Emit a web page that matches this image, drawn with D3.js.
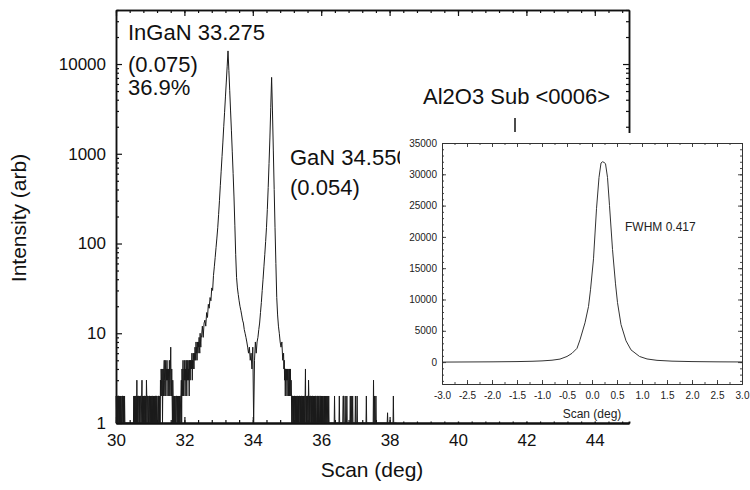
<!DOCTYPE html>
<html lang="en">
<head>
<meta charset="UTF-8">
<title>XRD scan InGaN / GaN</title>
<script src="https://cdnjs.cloudflare.com/ajax/libs/d3/7.8.5/d3.min.js"></script>
<style>
  body { margin: 0; background: #fff; }
  svg { display: block; font-family: "Liberation Sans", Arial, sans-serif; }
</style>
</head>
<body>
<div id="chart"></div>
<script>
// main scan, read in three pieces (finer grid where the counts are noisy)
// low angle noise: 30.00 .. 32.49 deg, step 0.01
const lowStart = 30, lowStep = 0.01;
const lowCounts = [
  2,0,2,1,2,0,2,2,0,2,   // 30.0
  1,2,0,2,0,2,1,0,2,2,   // 30.1
  0,2,1,2,0,2,0,1,1,0,   // 30.2
  1,0,1,1,0,1,0,1,1,0,   // 30.3
  1,1,0,1,0,1,1,0,1,0,   // 30.4
  1,1,2,0,2,1,2,0,2,2,   // 30.5
  0,3,1,2,0,2,2,0,1,2,   // 30.6
  0,2,2,1,0,2,3,0,2,1,   // 30.7
  2,0,2,2,0,2,1,2,0,3,   // 30.8
  2,0,2,2,1,0,2,0,2,2,   // 30.9
  0,2,1,2,0,2,2,0,2,1,   // 31.0
  2,0,2,0,2,2,1,2,0,2,   // 31.1
  2,0,1,2,2,0,2,0,2,1,   // 31.2
  3,2,4,3,2,4,1,3,4,2,   // 31.3
  4,5,3,2,5,4,2,4,3,5,   // 31.4
  3,4,2,3,4,2,5,3,2,4,   // 31.5
  7,3,2,4,2,1,3,2,0,2,   // 31.6
  1,2,0,2,1,0,2,2,0,1,   // 31.7
  2,0,2,1,2,0,2,1,0,2,   // 31.8
  2,3,1,4,2,3,5,2,3,4,   // 31.9
  3,5,2,4,3,5,4,2,5,3,   // 32.0
  4,5,3,4,2,5,4,3,5,4,   // 32.1
  5,4,6,3,5,4,6,5,4,6,   // 32.2
  5,7,6,5,8,6,7,5,8,7,   // 32.3
  6,8,7,9,7,6,10,8,7,9   // 32.4
];
// the two peaks: 32.500 .. 34.875 deg, step 0.025
const peakStart = 32.5, peakStep = 0.025;
const peakCounts = [
  9,12,9,13,14,12,17,15,21,19,
  25,23,32,30,44,55,70,90,115,150,
  210,300,440,640,930,1350,2000,2900,4300,6300,
  9300,14000,8500,5100,3000,1800,1050,600,330,160,
  75,42,32,27,23,20,18,16,14,13,
  11,10,9,8,7,6,7,5,6,4,
  7,1,5,8,6,8,9,11,13,17,
  22,30,40,55,75,105,150,240,420,780,
  1500,3300,7100,3000,1100,400,150,60,25,16,
  12,10,8,7,8,5
];
// high angle noise: 34.90 .. 38.20 deg, step 0.01
const highStart = 34.9, highStep = 0.01;
const highCounts = [
  6,4,5,3,4,2,4,4,3,4,   // 34.9
  2,4,3,4,2,3,4,2,4,3,   // 35.0
  4,2,3,2,0,2,2,0,2,1,   // 35.1
  2,0,2,2,0,2,1,2,0,2,   // 35.2
  2,0,2,1,2,0,2,2,0,2,   // 35.3
  1,2,0,2,2,0,2,0,2,1,   // 35.4
  2,0,2,2,4,0,2,1,2,0,   // 35.5
  2,2,0,3,2,0,2,1,2,2,   // 35.6
  0,2,1,2,0,2,2,0,2,0,   // 35.7
  2,1,2,0,2,2,0,1,2,0,   // 35.8
  2,2,0,2,1,0,2,2,0,2,   // 35.9
  1,2,0,2,0,2,1,0,2,0,   // 36.0
  2,0,1,2,0,2,0,1,0,2,   // 36.1
  0,1,2,0,0,1,0,0,0,0,   // 36.2
  0,0,0,0,0,0,0,0,0,2,   // 36.3
  0,0,0,0,0,0,0,0,0,0,   // 36.4
  0,0,0,2,0,0,0,0,0,0,   // 36.5
  0,0,0,0,2,2,0,0,0,0,   // 36.6
  2,0,0,0,0,2,0,0,0,0,   // 36.7
  0,0,0,0,0,2,0,0,2,0,   // 36.8
  0,0,2,0,0,0,0,0,0,0,   // 36.9
  2,0,0,0,0,2,0,0,0,0,   // 37.0
  0,0,0,0,0,0,0,0,0,0,   // 37.1
  0,0,0,0,0,0,0,0,0,0,   // 37.2
  0,0,2,0,0,0,0,0,0,0,   // 37.3
  0,0,0,0,0,0,0,0,0,0,   // 37.4
  0,0,0,3,0,0,2,0,0,0,   // 37.5
  2,0,0,0,0,0,0,0,0,0,   // 37.6
  0,0,0,0,0,0,0,0,0,0,   // 37.7
  0,0,0,0,0,0,0,0,0,0,   // 37.8
  0,0,0,0,1.3,0,0,0,0,0, // 37.9
  0,0,0,0,0,0,0,0,0,0,   // 38.0
  0,2,0,0,0,0,0,0,0,0,   // 38.1
  0                      // 38.2
];
const mainXTicks = [30, 32, 34, 36, 38, 40, 42, 44];
const mainYTicks = [1, 10, 100, 1000, 10000];

const inganNote = ["InGaN 33.275", "(0.075)", "36.9%"];
const ganNote = ["GaN 34.550", "(0.054)"];
const subNote = "Al2O3 Sub <0006>";

// inset: substrate rocking curve
const rockX = [-3.0, -2.5, -2.0, -1.5, -1.2, -1.0, -0.8, -0.64, -0.5, -0.4, -0.3, -0.24, -0.14, -0.07, -0.03,
  0.03, 0.09, 0.14, 0.18, 0.21, 0.24, 0.27, 0.31, 0.35, 0.41, 0.47, 0.51, 0.58, 0.68, 0.78, 0.95,
  1.1, 1.3, 1.6, 2.0, 2.5, 3.0];
const rockY = [0, 20, 40, 80, 130, 190, 300, 480, 900, 1400, 2200, 3560, 6280, 8880, 11550,
  16500, 24500, 29500, 31800, 32000, 31900, 31700, 29500, 25000, 18000, 12500, 9500, 6000, 3400, 1950, 900,
  500, 280, 150, 80, 40, 20];
const insetXTicks = [-3.0, -2.5, -2.0, -1.5, -1.0, -0.5, 0.0, 0.5, 1.0, 1.5, 2.0, 2.5, 3.0];
const insetYTicks = [0, 5000, 10000, 15000, 20000, 25000, 30000, 35000];

const width = 750, height = 490;
const ink = "#111";

const svg = d3.select("#chart").append("svg")
  .attr("width", width)
  .attr("height", height);

// ---------- main plot ----------
const x = d3.scaleLinear().domain([30, 45]).range([116, 629]);
const y = d3.scaleLog().domain([1, 40000]).range([423, 10]);

const xMinor = d3.range(0, 38).map(i => 30 + i * 0.4);
const yMinor = y.ticks().filter(v => !mainYTicks.includes(v));

function styleAxis(g, size, sw) {
  g.style("color", ink)
    .attr("font-family", "Liberation Sans, Arial, sans-serif")
    .attr("font-size", size);
  g.select(".domain").attr("stroke-width", sw);
  g.selectAll(".tick line").attr("stroke-width", 1.2);
}

// minor ticks
svg.append("g").attr("transform", "translate(0,423)")
  .call(d3.axisBottom(x).tickValues(xMinor).tickSizeInner(-3).tickSizeOuter(0).tickFormat(""))
  .call(styleAxis, 17, 2);
svg.append("g").attr("transform", "translate(0,10)")
  .call(d3.axisTop(x).tickValues(xMinor).tickSizeInner(-3).tickSizeOuter(0).tickFormat(""))
  .call(styleAxis, 17, 1.5);
svg.append("g").attr("transform", "translate(116,0)")
  .call(d3.axisLeft(y).tickValues(yMinor).tickSizeInner(-3).tickSizeOuter(0).tickFormat(""))
  .call(styleAxis, 17, 1.5);
svg.append("g").attr("transform", "translate(629,0)")
  .call(d3.axisRight(y).tickValues(yMinor).tickSizeInner(-3).tickSizeOuter(0).tickFormat(""))
  .call(styleAxis, 17, 1.5);

// major ticks
svg.append("g").attr("transform", "translate(0,423)")
  .call(d3.axisBottom(x).tickValues(mainXTicks).tickSizeInner(-6).tickSizeOuter(0).tickPadding(11).tickFormat(d3.format("d")))
  .call(styleAxis, 17, 2);
svg.append("g").attr("transform", "translate(0,10)")
  .call(d3.axisTop(x).tickValues(mainXTicks).tickSizeInner(-6).tickSizeOuter(0).tickFormat(""))
  .call(styleAxis, 17, 1.5);
svg.append("g").attr("transform", "translate(116,0)")
  .call(d3.axisLeft(y).tickValues(mainYTicks).tickSizeInner(-6).tickSizeOuter(0).tickPadding(10).tickFormat(d3.format("d")))
  .call(styleAxis, 17, 1.5);
svg.append("g").attr("transform", "translate(629,0)")
  .call(d3.axisRight(y).tickValues(mainYTicks).tickSizeInner(-6).tickSizeOuter(0).tickFormat(""))
  .call(styleAxis, 17, 1.5);

// scan line
const toPoints = (start, step, arr) => arr.map((v, i) => [start + i * step, v]);
const scan = [].concat(
  toPoints(lowStart, lowStep, lowCounts),
  toPoints(peakStart, peakStep, peakCounts),
  toPoints(highStart, highStep, highCounts)
);

const line = d3.line()
  .x(d => x(d[0]))
  .y(d => y(Math.max(d[1], 1)));

svg.append("path")
  .datum(scan)
  .attr("d", line)
  .attr("fill", "none")
  .attr("stroke", "#1a1a1a")
  .attr("stroke-width", 1);

// axis titles
svg.append("text")
  .attr("x", 372).attr("y", 477)
  .attr("text-anchor", "middle")
  .attr("font-size", 21)
  .attr("fill", ink)
  .text("Scan (deg)");

svg.append("text")
  .attr("transform", "translate(26,218) rotate(-90)")
  .attr("text-anchor", "middle")
  .attr("font-size", 21)
  .attr("fill", ink)
  .text("Intensity (arb)");

// peak notes
svg.append("g").selectAll("text")
  .data(inganNote)
  .join("text")
  .attr("x", 128)
  .attr("y", (d, i) => [40, 72, 95][i])
  .attr("font-size", 22)
  .attr("fill", ink)
  .text(d => d);

svg.append("g").selectAll("text")
  .data(ganNote)
  .join("text")
  .attr("x", 290)
  .attr("y", (d, i) => 165 + i * 30)
  .attr("font-size", 22)
  .attr("fill", ink)
  .text(d => d);

// ---------- inset ----------
svg.append("rect")
  .attr("x", 400).attr("y", 133)
  .attr("width", 350).attr("height", 288.5)
  .attr("fill", "#fff");

svg.append("text")
  .attr("x", 423).attr("y", 104)
  .attr("font-size", 22)
  .attr("fill", ink)
  .text(subNote);

svg.append("line")
  .attr("x1", 515).attr("x2", 515)
  .attr("y1", 118).attr("y2", 132)
  .attr("stroke", ink)
  .attr("stroke-width", 1.5);

const xi = d3.scaleLinear().domain([-3, 3]).range([442, 742]);
const yi = d3.scaleLinear().domain([-3500, 35000]).range([384, 143]);

const xiMinor = d3.range(0, 25).map(i => -3 + i * 0.25);
const yiMinor = d3.range(-3, 36).map(i => i * 1000);

function styleInset(g) {
  g.style("color", "#333")
    .attr("font-family", "Liberation Sans, Arial, sans-serif")
    .attr("font-size", 10);
  g.select(".domain").attr("stroke-width", 1);
  g.selectAll(".tick line").attr("stroke-width", 0.9);
  g.selectAll(".tick text").attr("fill", "#222");
}

svg.append("g").attr("transform", "translate(0,384)")
  .call(d3.axisBottom(xi).tickValues(xiMinor).tickSizeInner(-2).tickSizeOuter(0).tickFormat(""))
  .call(styleInset);
svg.append("g").attr("transform", "translate(0,143)")
  .call(d3.axisTop(xi).tickValues(xiMinor).tickSizeInner(-2).tickSizeOuter(0).tickFormat(""))
  .call(styleInset);
svg.append("g").attr("transform", "translate(442,0)")
  .call(d3.axisLeft(yi).tickValues(yiMinor).tickSizeInner(-2).tickSizeOuter(0).tickFormat(""))
  .call(styleInset);
svg.append("g").attr("transform", "translate(742,0)")
  .call(d3.axisRight(yi).tickValues(yiMinor).tickSizeInner(-2).tickSizeOuter(0).tickFormat(""))
  .call(styleInset);

svg.append("g").attr("transform", "translate(0,384)")
  .call(d3.axisBottom(xi).tickValues(insetXTicks).tickSizeInner(-4).tickSizeOuter(0).tickPadding(8).tickFormat(d => d.toFixed(1)))
  .call(styleInset);
svg.append("g").attr("transform", "translate(0,143)")
  .call(d3.axisTop(xi).tickValues(insetXTicks).tickSizeInner(-4).tickSizeOuter(0).tickFormat(""))
  .call(styleInset);
svg.append("g").attr("transform", "translate(442,0)")
  .call(d3.axisLeft(yi).tickValues(insetYTicks).tickSizeInner(-4).tickSizeOuter(0).tickPadding(5).tickFormat(d3.format("d")))
  .call(styleInset);
svg.append("g").attr("transform", "translate(742,0)")
  .call(d3.axisRight(yi).tickValues(insetYTicks).tickSizeInner(-4).tickSizeOuter(0).tickFormat(""))
  .call(styleInset);

const rockLine = d3.line()
  .x((d, i) => xi(rockX[i]))
  .y(d => yi(d));

svg.append("path")
  .datum(rockY)
  .attr("d", rockLine)
  .attr("fill", "none")
  .attr("stroke", "#333")
  .attr("stroke-width", 1);

svg.append("text")
  .attr("x", 592).attr("y", 418)
  .attr("text-anchor", "middle")
  .attr("font-size", 12)
  .attr("fill", "#222")
  .text("Scan (deg)");

svg.append("text")
  .attr("x", 625).attr("y", 231)
  .attr("font-size", 12)
  .attr("fill", "#222")
  .text("FWHM 0.417");
</script>
</body>
</html>
